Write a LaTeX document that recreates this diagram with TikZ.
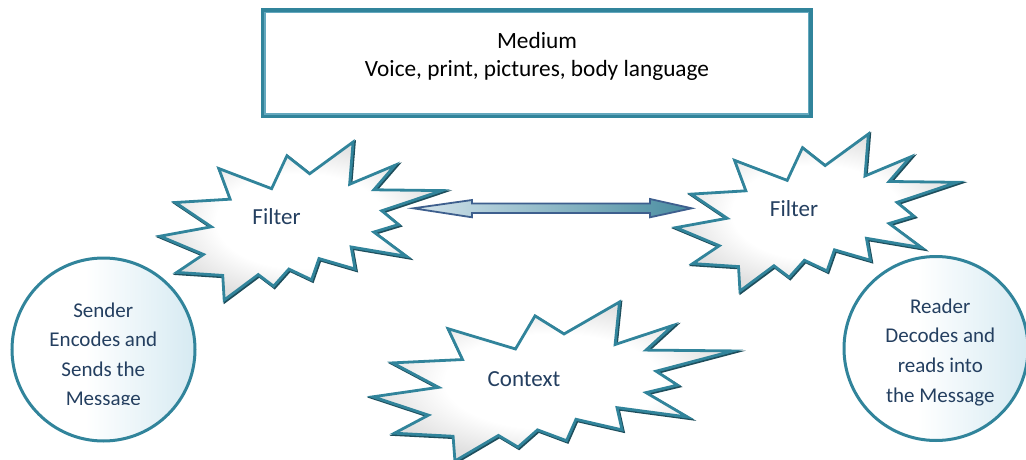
\documentclass[tikz,border=0pt]{standalone}
\usepackage{fontspec}
\setmainfont{Carlito}
\usetikzlibrary{calc}

\definecolor{tealline}{RGB}{49,132,155}
\definecolor{tealdark}{RGB}{30,78,92}
\definecolor{tealthin}{RGB}{100,168,190}
\definecolor{navytext}{RGB}{36,63,96}
\definecolor{discblue}{RGB}{214,234,242}
\definecolor{arrowlight}{RGB}{212,228,236}
\definecolor{arrowteal}{RGB}{72,140,160}
\definecolor{arrowedge}{RGB}{62,95,142}

% white on the left, light blue towards the right
\pgfdeclarehorizontalshading{discfill}{100bp}{color(0bp)=(white); color(45bp)=(white); color(75bp)=(discblue); color(100bp)=(discblue)}
\pgfdeclarehorizontalshading{arrowfill}{100bp}{color(0bp)=(arrowlight); color(25bp)=(arrowlight); color(75bp)=(arrowteal); color(100bp)=(arrowteal)}
% mostly white explosion face, greying towards the spikes
\pgfdeclareradialshading{burstfill}{\pgfpoint{0bp}{0bp}}{color(0bp)=(white); color(15bp)=(white); color(25bp)=(black!12); color(50bp)=(black!18)}

% explosion outline in a 216 x 216 box, scaled into the box #2,#3 (corner), #4 x #5 (size)
\newcommand\burstpoly[5]{%
  \begin{scope}[shift={(#2,#3)},xscale=#4/216,yscale=#5/216]
    \path[#1] (114.62,43.42) -- (147.90,0) -- (145.25,57.77) -- (180.07,31.72)
      -- (163.80,65.32) -- (216,66.45) -- (169.85,94.02) -- (182.70,112.90)
      -- (163.80,123.10) -- (188.77,156.32) -- (146.40,143.50) -- (149.42,173.70)
      -- (121.80,159.35) -- (116.12,188.42) -- (98.72,173.70) -- (87.00,197.12)
      -- (75.27,181.25) -- (49.17,216) -- (48.05,182.40) -- (12.85,178.25)
      -- (33.30,153.70) -- (0,128.77) -- (39.35,115.92) -- (11.72,82.70)
      -- (53.72,78.17) -- (45.02,36.25) -- (85.50,63.82) -- (97.22,18.87) -- cycle;
  \end{scope}}
\newcommand\burst[4]{%
  \burstpoly{draw=tealdark,line width=3.2pt,line join=miter}{#1+1}{#2+1.2}{#3}{#4}%
  \burstpoly{draw=tealline,line width=2.8pt,line join=miter,shading=burstfill}{#1}{#2}{#3}{#4}}

\tikzset{
  disc/.style={circle,draw=tealline,line width=3pt,shading=discfill,minimum size=#1,inner sep=0pt},
  disctext/.style={align=center,text=navytext,font=\fontsize{21}{29.6}\selectfont,inner sep=0pt},
  bursttext/.style={anchor=base,text=navytext,font=\fontsize{23}{28}\selectfont,inner sep=0pt},
  mediumtext/.style={align=center,text=black,font=\fontsize{23.3}{28.4}\selectfont,inner sep=0pt},
  blockarrow/.style={draw=arrowedge,line width=1.8pt,line join=miter,shading=arrowfill}
}

\begin{document}
\begin{tikzpicture}[x=1pt,y=-1pt]
\useasboundingbox (0,0) rectangle (1026,460);

% medium box with thick outer and thin inner frame
\node[draw=tealline,line width=4pt,minimum width=547.5pt,minimum height=105.5pt,inner sep=0pt] (medium) at (536.75,63.25) {};
\draw[tealthin,line width=1.3pt] ($(medium.north west)+(4,4)$) rectangle ($(medium.south east)+(-4,-4)$);
\node[mediumtext] (mediumtxt) at (537,56.5) {Medium\\Voice, print, pictures, body language};

% explosions
\burst{160}{142}{282}{158}
\burst{676}{134}{281}{157}
\burst{373}{302}{360}{159}
\node[bursttext] (filterL) at (276.5,224) {Filter};
\node[bursttext] (filterR) at (794,216) {Filter};
\node[bursttext] (context) at (524,386.7) {Context};

% double block arrow between the filters
\coordinate (arrL) at (413.3,208.3);
\coordinate (arrR) at (691.7,208.3);
\path[blockarrow] (arrL) -- ++(58.7,-8.3) -- ++(0,3.5) -- ++(178,0) -- ++(0,-4.5)
  -- (arrR) -- ++(-41.7,9) -- ++(0,-4.3) -- ++(-178,0) -- ++(0,4.3) -- cycle;

% sender and reader
\node[disc=183pt] (sender) at (103.5,349.5) {};
\begin{scope}
  \clip (0,0) rectangle (1026,404.5);
  \node[disctext] (sendertxt) at (103.3,356) {Sender\\Encodes and\\Sends the\\Message};
\end{scope}
\node[disc=184pt] (reader) at (936,348.5) {};
\node[disctext] (readertxt) at (940.3,352.3) {Reader\\Decodes and\\reads into\\the Message};
\end{tikzpicture}
\end{document}
